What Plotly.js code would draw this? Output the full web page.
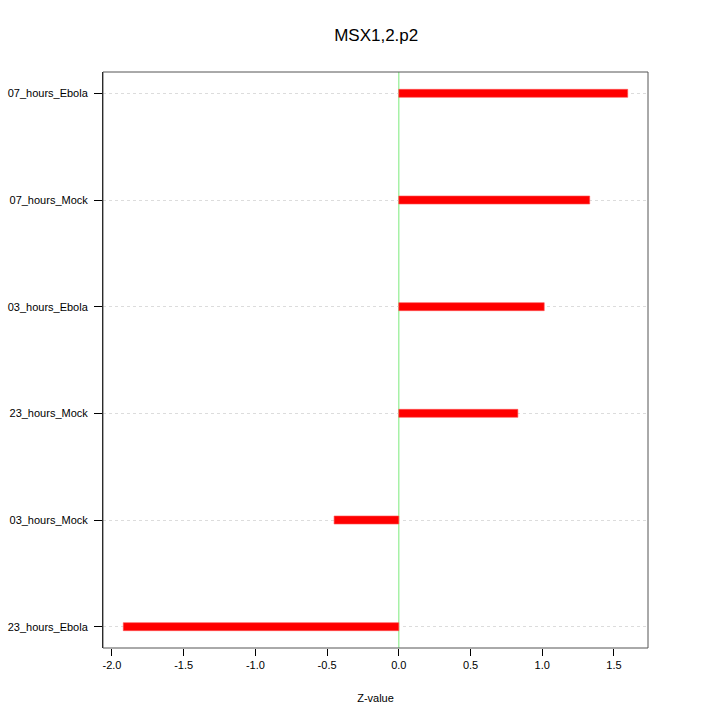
<!DOCTYPE html>
<html>
<head>
<meta charset="utf-8">
<script src="https://cdn.plot.ly/plotly-3.0.1.min.js"></script>
<style>html,body{margin:0;padding:0;background:#fff;}#chart{width:720px;height:720px;}</style>
</head>
<body>
<div id="chart"></div>
<script>
const categories = ["23_hours_Ebola", "03_hours_Mock", "23_hours_Mock", "03_hours_Ebola", "07_hours_Mock", "07_hours_Ebola"];
const zValues = [-1.921, -0.451, 0.830, 1.014, 1.331, 1.596];
const xTickVals = [-2.0, -1.5, -1.0, -0.5, 0.0, 0.5, 1.0, 1.5];
const xTickText = ["-2.0", "-1.5", "-1.0", "-0.5", "0.0", "0.5", "1.0", "1.5"];

const font = "Liberation Sans, Arial, Helvetica, sans-serif";

const trace = {
  type: "bar",
  orientation: "h",
  y: categories,
  x: zValues,
  width: 0.075,
  marker: {color: "#ff0000", line: {color: "rgba(255,80,80,0.6)", width: 1}},
  hoverinfo: "x+y"
};

const layout = {
  width: 720, height: 720,
  margin: {l: 103, r: 72, t: 72, b: 72},
  paper_bgcolor: "#ffffff",
  plot_bgcolor: "#ffffff",
  showlegend: false,
  font: {family: font, size: 11, color: "#000"},
  title: {text: "MSX1,2.p2", x: 0.5225, xanchor: "center", y: 0.951, yanchor: "middle", font: {family: font, size: 17, color: "#000"}},
  xaxis: {
    range: [-2.0625, 1.7375],
    tickvals: xTickVals, ticktext: xTickText,
    ticks: "outside", ticklen: 7, tickcolor: "#000",
    showgrid: false, zeroline: false, showline: false,
    tickfont: {family: font, size: 11, color: "#000"},
    title: {text: "Z-value", standoff: 24, font: {family: font, size: 11, color: "#000"}}
  },
  yaxis: {
    type: "category",
    categoryorder: "array", categoryarray: categories,
    range: [-0.2, 5.2],
    ticks: "outside", ticklen: 8, tickcolor: "#000",
    ticklabelstandoff: 4,
    showgrid: true, gridcolor: "#dcdcdc", griddash: "dot", gridwidth: 1,
    zeroline: false, showline: true, linecolor: "#000", linewidth: 1,
    tickfont: {family: font, size: 11, color: "#000"}
  },
  shapes: [
    {type: "line", xref: "x", yref: "paper", x0: 0, x1: 0, y0: 0, y1: 1, line: {color: "#90ee90", width: 1.2}, layer: "below"},
    {type: "rect", xref: "paper", yref: "paper", x0: 0, x1: 1, y0: 0, y1: 1, line: {color: "#555", width: 1}, fillcolor: "rgba(0,0,0,0)"}
  ]
};

Plotly.newPlot("chart", [trace], layout, {displayModeBar: false, staticPlot: true});
</script>
</body>
</html>
